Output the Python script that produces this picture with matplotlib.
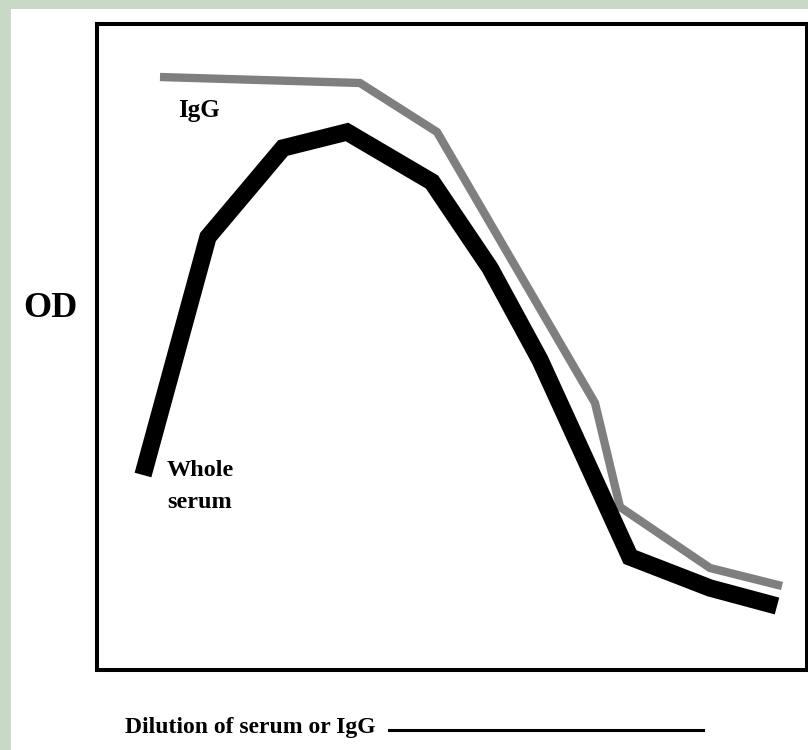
import matplotlib.pyplot as plt
from matplotlib.patches import Rectangle
from matplotlib.lines import Line2D

# values (arbitrary units: dilution step position, OD)
igg_x = [63, 263, 340, 498, 523, 613, 685]
igg_y = [593, 587, 538, 267, 163, 102, 84]

serum_x = [46, 111, 186, 250, 335, 393, 443, 533, 613, 680]
serum_y = [195, 433, 522, 538, 488, 402, 310, 113, 82, 64]

W, H = 808, 750
fig = plt.figure(figsize=(W / 100, H / 100), dpi=100)
fig.patch.set_facecolor("#c9d8c7")
fig.add_artist(Rectangle((11 / W, 0), 1, (H - 9) / H, transform=fig.transFigure,
                         facecolor="white", edgecolor="none", zorder=0))

ax = fig.add_axes([97 / W, (H - 670) / H, 710 / W, 646 / H])
ax.set_xlim(0, 710)
ax.set_ylim(0, 646)
ax.set_xticks([])
ax.set_yticks([])
for s in ax.spines.values():
    s.set_linewidth(2.9)
    s.set_color("black")

ax.plot(igg_x, igg_y, color="#7f7f7f", lw=6.0, solid_joinstyle="miter",
        solid_capstyle="butt")
ax.plot(serum_x, serum_y, color="black", lw=12.5, solid_joinstyle="miter",
        solid_capstyle="butt")

serif = dict(family="Liberation Serif", fontweight="bold")
ax.text(81, 560, "IgG", fontsize=18, va="center", ha="left", **serif)
ax.text(70, 200, "Whole", fontsize=17.5, va="center", ha="left", **serif)
ax.text(70, 167, "serum", fontsize=17.5, va="center", ha="left", **serif)

fig.text(50 / W, 1 - 309 / H, "OD", fontsize=26, ha="center", va="center", **serif)
fig.text(125 / W, 1 - 728 / H, "Dilution of serum or IgG", fontsize=17,
         ha="left", va="center", **serif)
fig.add_artist(Line2D([389 / W, 703 / W], [1 - 730 / H, 1 - 730 / H],
                      transform=fig.transFigure, color="black", lw=2.2))

fig.savefig("out.png", dpi=100)
